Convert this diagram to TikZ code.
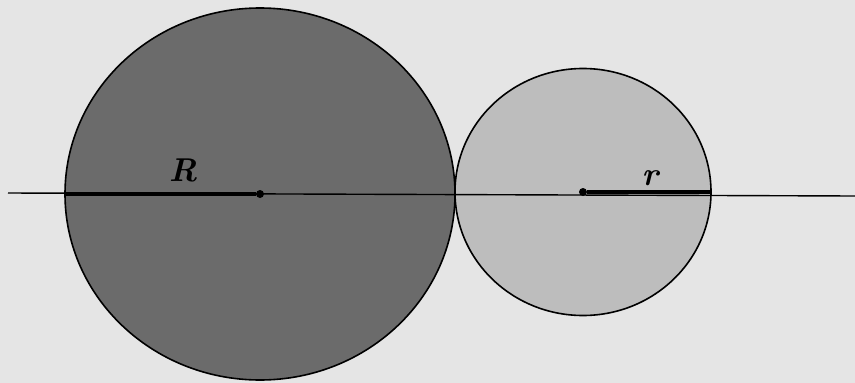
\documentclass[tikz,border=0pt]{standalone}
\usepackage{fontspec}
\usepackage{tikz}
\usetikzlibrary{shapes.geometric}

\begin{document}
\begin{tikzpicture}[
  x=1pt, y=-1pt,
  disc/.style={draw,ellipse,line width=1.6pt,inner sep=0pt},
  centre/.style={circle,fill=black,inner sep=0pt,minimum size=8pt},
  axis/.style={line width=1.4pt},
  radius/.style={line width=3.2pt},
  lbl/.style={font=\fontsize{33pt}{33pt}\selectfont\bfseries\itshape}
]
\fill[gray!20!white] (0,0) rectangle (855,383);
\useasboundingbox (0,0) rectangle (855,383);
\node[disc,fill=black!58,minimum width=390pt,minimum height=372pt] (big) at (260,194) {};
\node[disc,fill=black!26,minimum width=256pt,minimum height=247pt] (small) at (583,192) {};
\coordinate (lineL) at (8,193);
\coordinate (lineR) at (855,196);
\node[centre] (O1) at (big.center) {};
\node[centre] (O2) at (small.center) {};

\draw[axis] (lineL) -- (lineR);
\draw[radius] (big.west) -- (O1);
\draw[radius] (O2) -- (small.east);
\node[lbl] (R) at (183,170) {R};
\node[lbl] (r) at (650,178) {r};
\end{tikzpicture}
\end{document}
